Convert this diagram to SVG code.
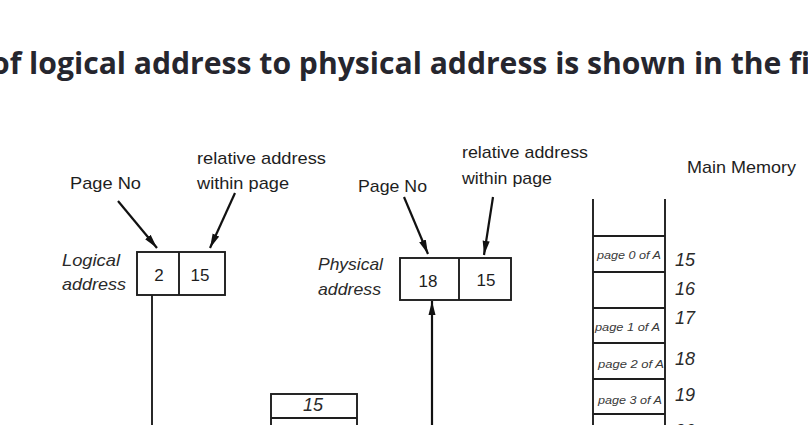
<svg xmlns="http://www.w3.org/2000/svg" width="808" height="425" viewBox="0 0 808 425">
  <style>
    .title { font-family: "Open Sans", "Noto Sans", "Liberation Sans", sans-serif; font-weight: 700; font-size: 31px; fill: #26262e; }
    .lbl { font-family: "Liberation Sans", Arial, sans-serif; font-size: 17px; fill: #1e1e1e; }
    .ital { font-family: "Liberation Sans", Arial, sans-serif; font-size: 17px; font-style: italic; fill: #2a2a2a; }
    .num { font-family: "Liberation Sans", Arial, sans-serif; font-size: 17px; fill: #1e1e1e; text-anchor: middle; }
    .memnum { font-family: "Liberation Sans", Arial, sans-serif; font-size: 18px; font-style: italic; fill: #2a2a2a; }
    .pg { font-family: "Liberation Sans", Arial, sans-serif; font-size: 10px; font-style: italic; fill: #3a3a3a; }
    .box { fill: #fff; stroke: #1e1e1e; stroke-width: 1.9; }
    .ln { stroke: #1e1e1e; stroke-width: 1.9; fill: none; }
    .arr { stroke: #111; stroke-width: 2.2; fill: none; marker-end: url(#head); }
  </style>
  <defs>
    <marker id="head" viewBox="0 0 14 8" refX="14" refY="4" markerWidth="6.5" markerHeight="3.7" orient="auto" markerUnits="strokeWidth">
      <path d="M0,0.5 L14,4 L0,7.5 Z" fill="#111"/>
    </marker>
  </defs>

  <rect width="808" height="425" fill="#fff"/>

  <!-- heading line -->
  <text class="title" x="-9" y="74" textLength="819" lengthAdjust="spacingAndGlyphs">of logical address to physical address is shown in the fi</text>

  <!-- logical address -->
  <g id="logical">
    <text class="lbl" x="70" y="189" textLength="71" lengthAdjust="spacingAndGlyphs">Page No</text>
    <text class="lbl" x="197" y="164" textLength="129" lengthAdjust="spacingAndGlyphs">relative address</text>
    <text class="lbl" x="197" y="189" textLength="92" lengthAdjust="spacingAndGlyphs">within page</text>
    <text class="ital" x="62" y="266" textLength="58" lengthAdjust="spacingAndGlyphs">Logical</text>
    <text class="ital" x="62" y="290" textLength="64" lengthAdjust="spacingAndGlyphs">address</text>
    <rect class="box" x="137" y="252" width="88" height="43"/>
    <line class="ln" x1="179" y1="252" x2="179" y2="295"/>
    <text class="num" x="159" y="281">2</text>
    <text class="num" x="200" y="281">15</text>
  </g>

  <!-- physical address -->
  <g id="physical">
    <text class="lbl" x="358" y="192" textLength="69" lengthAdjust="spacingAndGlyphs">Page No</text>
    <text class="lbl" x="462" y="158" textLength="126" lengthAdjust="spacingAndGlyphs">relative address</text>
    <text class="lbl" x="462" y="184" textLength="90" lengthAdjust="spacingAndGlyphs">within page</text>
    <text class="ital" x="318" y="270" textLength="65" lengthAdjust="spacingAndGlyphs">Physical</text>
    <text class="ital" x="318" y="295" textLength="63" lengthAdjust="spacingAndGlyphs">address</text>
    <rect class="box" x="400" y="258" width="111" height="42"/>
    <line class="ln" x1="459" y1="258" x2="459" y2="300"/>
    <text class="num" x="428" y="287">18</text>
    <text class="num" x="486" y="286">15</text>
  </g>

  <!-- page table entry -->
  <g id="pagetable">
    <rect class="box" x="271" y="394" width="86" height="40"/>
    <line class="ln" x1="271" y1="418" x2="357" y2="418"/>
    <text class="memnum" x="313" y="411" text-anchor="middle" font-size="16">15</text>
  </g>

  <!-- main memory -->
  <g id="memory">
    <text class="lbl" x="687" y="173" textLength="109" lengthAdjust="spacingAndGlyphs">Main Memory</text>
    <line class="ln" x1="593" y1="199" x2="593" y2="425"/>
    <line class="ln" x1="665" y1="199" x2="665" y2="425"/>
    <line class="ln" x1="593" y1="236" x2="665" y2="236"/>
    <line class="ln" x1="593" y1="272" x2="665" y2="272"/>
    <line class="ln" x1="593" y1="308" x2="665" y2="308"/>
    <line class="ln" x1="593" y1="343" x2="665" y2="343"/>
    <line class="ln" x1="593" y1="379" x2="665" y2="379"/>
    <line class="ln" x1="593" y1="414" x2="665" y2="414"/>
    <text class="pg" x="597" y="259" textLength="64" lengthAdjust="spacingAndGlyphs">page 0 of A</text>
    <text class="pg" x="595" y="331" textLength="65" lengthAdjust="spacingAndGlyphs">page 1 of A</text>
    <text class="pg" x="598" y="368" textLength="66" lengthAdjust="spacingAndGlyphs">page 2 of A</text>
    <text class="pg" x="598" y="404" textLength="64" lengthAdjust="spacingAndGlyphs">page 3 of A</text>
    <text class="memnum" x="675" y="266">15</text>
    <text class="memnum" x="675" y="295">16</text>
    <text class="memnum" x="675" y="324">17</text>
    <text class="memnum" x="675" y="365">18</text>
    <text class="memnum" x="675" y="401">19</text>
    <text class="memnum" x="675" y="437">20</text>
  </g>

  <!-- connectors -->
  <g id="connectors">
    <line class="arr" x1="118" y1="201" x2="157" y2="248"/>
    <line class="arr" x1="235" y1="193" x2="210" y2="248"/>
    <line class="arr" x1="404" y1="197" x2="428" y2="254"/>
    <line class="arr" x1="493" y1="197" x2="484" y2="255"/>
    <line class="ln" x1="152" y1="295" x2="152" y2="425"/>
    <line class="arr" x1="432" y1="425" x2="432" y2="301"/>
  </g>
</svg>
